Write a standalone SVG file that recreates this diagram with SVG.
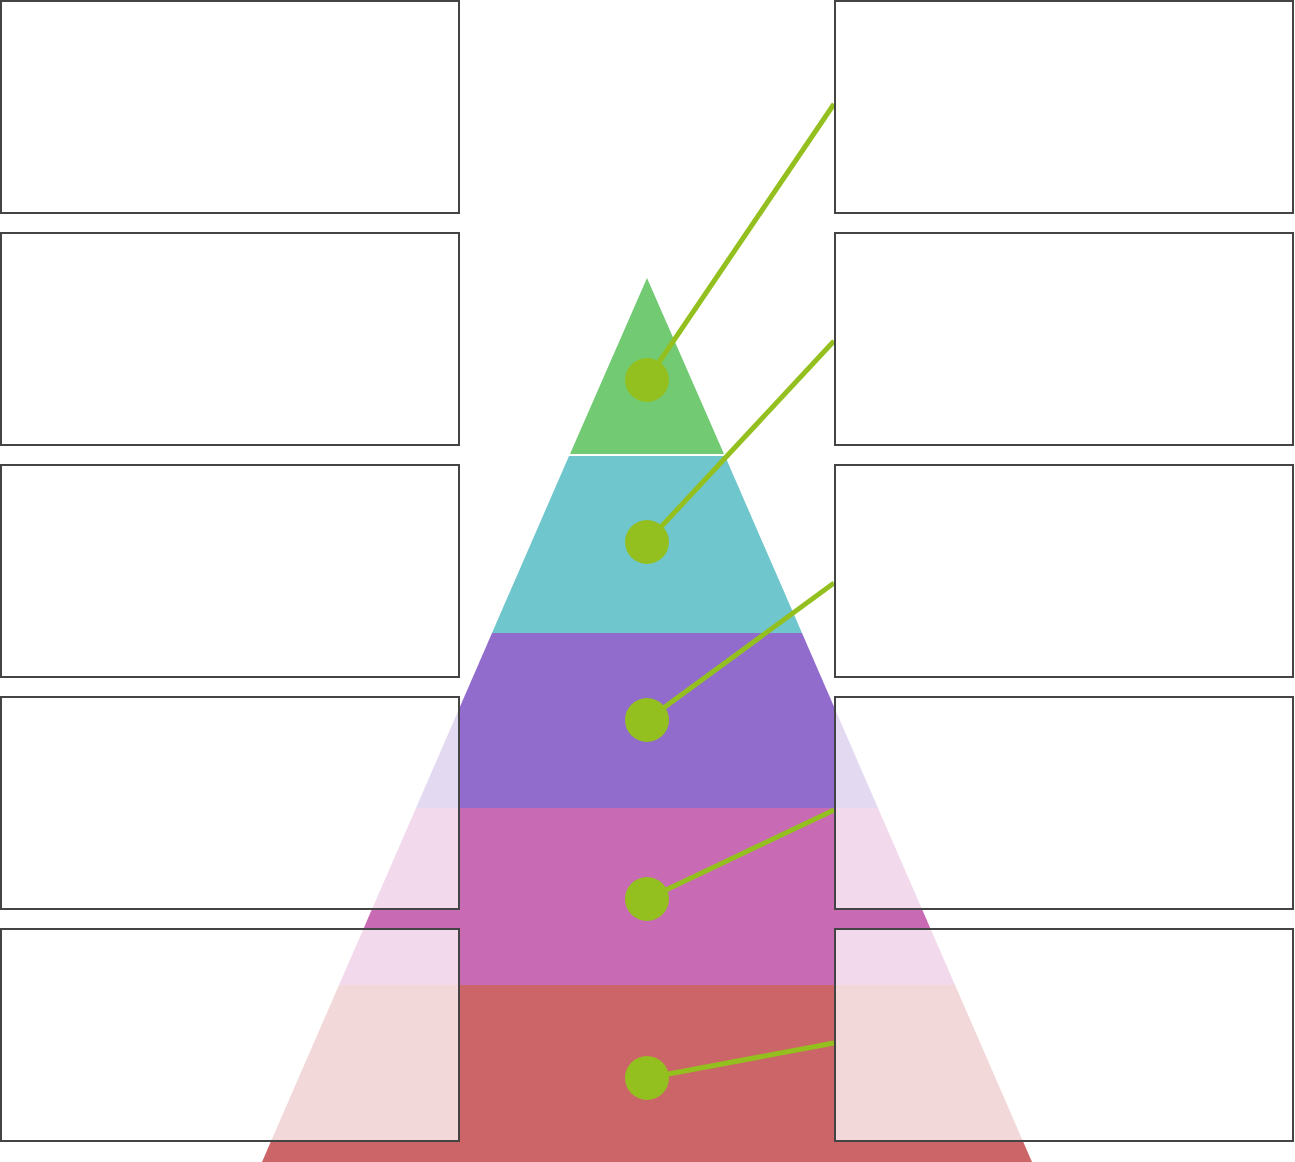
<svg xmlns="http://www.w3.org/2000/svg" width="1295" height="1162" viewBox="0 0 1295 1162">
<style>
.box{fill:#ffffff;fill-opacity:0.75;stroke:#444444;stroke-width:2}
.conn{stroke:#93C01F;stroke-width:5;fill:none}
.dot{fill:#93C01F}
</style>
<rect width="1295" height="1162" fill="#ffffff"/>
<g id="pyramid">
<polygon id="layer1" points="647,278 724,454 570,454" fill="#72CA72"/>
<polygon id="layer2" points="569,456 725,456 802,633 492,633" fill="#6FC6CC"/>
<polygon id="layer3" points="492,633 802,633 878,808 416,808" fill="#916CCC"/>
<polygon id="layer4" points="416,808 878,808 955,985 339,985" fill="#C96AB4"/>
<polygon id="layer5" points="339,985 955,985 1032,1162 262,1162" fill="#CB6567"/>
</g>
<g id="connectors">
<line class="conn" x1="647" y1="380" x2="834" y2="104"/>
<line class="conn" x1="647" y1="542" x2="834" y2="341"/>
<line class="conn" x1="647" y1="720" x2="834" y2="583"/>
<line class="conn" x1="647" y1="899" x2="834" y2="810"/>
<line class="conn" x1="647" y1="1078" x2="834" y2="1043"/>
</g>
<g id="dots">
<circle id="dot1" class="dot" cx="647" cy="380" r="22"/>
<circle id="dot2" class="dot" cx="647" cy="542" r="22"/>
<circle id="dot3" class="dot" cx="647" cy="720" r="22"/>
<circle id="dot4" class="dot" cx="647" cy="899" r="22"/>
<circle id="dot5" class="dot" cx="647" cy="1078" r="22"/>
</g>
<g id="box-l1"><rect class="box" x="1" y="1" width="458" height="212"/></g>
<g id="box-l2"><rect class="box" x="1" y="233" width="458" height="212"/></g>
<g id="box-l3"><rect class="box" x="1" y="465" width="458" height="212"/></g>
<g id="box-l4"><rect class="box" x="1" y="697" width="458" height="212"/></g>
<g id="box-l5"><rect class="box" x="1" y="929" width="458" height="212"/></g>
<g id="box-r1"><rect class="box" x="835" y="1" width="458" height="212"/></g>
<g id="box-r2"><rect class="box" x="835" y="233" width="458" height="212"/></g>
<g id="box-r3"><rect class="box" x="835" y="465" width="458" height="212"/></g>
<g id="box-r4"><rect class="box" x="835" y="697" width="458" height="212"/></g>
<g id="box-r5"><rect class="box" x="835" y="929" width="458" height="212"/></g>
</svg>
